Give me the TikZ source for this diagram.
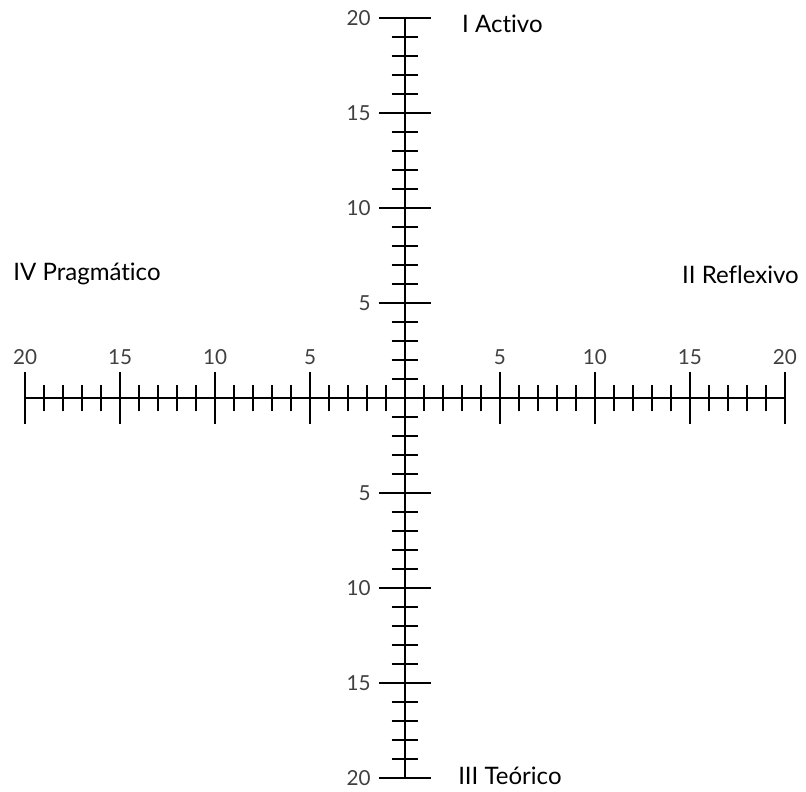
\documentclass[tikz,border=0pt]{standalone}
\usepackage{fontspec}
\setmainfont{Lato}[Ligatures={NoCommon,NoContextual}]
\usepackage{tikz}

\tikzset{
  axisline/.style={line width=1.1pt},
  quadlabel/.style={inner sep=0pt,font=\fontsize{18}{20}\selectfont},
  numlabel/.style={inner sep=0pt,text=black!75,font=\fontsize{15.5}{17}\selectfont},
}

\begin{document}
\begin{tikzpicture}[x=5mm,y=5mm]
  \useasboundingbox (-21.32,-20.74) rectangle (21.11,20.95);
  % axes
  \draw[axisline] (-20,0) -- (20,0);
  \draw[axisline] (0,-20) -- (0,20);
  % ticks
  \foreach \k in {1,...,20} {
    \draw[axisline] (\k,-0.7) -- (\k,0.7);
    \draw[axisline] (-\k,-0.7) -- (-\k,0.7);
    \draw[axisline] (-0.7,\k) -- (0.7,\k);
    \draw[axisline] (-0.7,-\k) -- (0.7,-\k);
  }
  \foreach \k in {5,10,15,20} {
    \draw[axisline] (\k,-1.35) -- (\k,1.35);
    \draw[axisline] (-\k,-1.35) -- (-\k,1.35);
    \draw[axisline] (-1.35,\k) -- (1.35,\k);
    \draw[axisline] (-1.35,-\k) -- (1.35,-\k);
    \node[numlabel,anchor=south] (xr\k) at (\k,1.74) {\k};
    \node[numlabel,anchor=south] (xl\k) at (-\k,1.74) {\k};
    \node[numlabel,anchor=east] (yt\k) at (-1.8,\k) {\k};
    \node[numlabel,anchor=east] (yb\k) at (-1.8,-\k) {\k};
  }
  % quadrants
  \node[quadlabel,anchor=base west] (activo) at (3.0,19.26) {I Activo};
  \node[quadlabel,anchor=base east] (reflexivo) at (20.74,6.05) {II Reflexivo};
  \node[quadlabel,anchor=base west] (teorico) at (2.79,-20.37) {III Teórico};
  \node[quadlabel,anchor=base west] (pragmatico) at (-20.63,6.16) {IV Pragmático};
\end{tikzpicture}
\end{document}
